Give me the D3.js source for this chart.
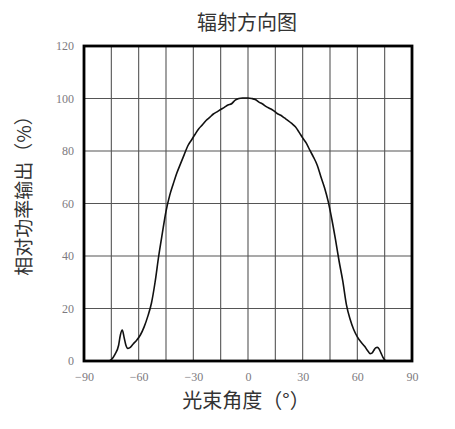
<!DOCTYPE html>
<html>
<head>
<meta charset="utf-8">
<script src="https://cdn.jsdelivr.net/npm/d3@7"></script>
<style>
html,body{margin:0;padding:0;background:#fff;}
svg{display:block;}
</style>
</head>
<body>
<script>
const title = "辐射方向图";
const xLabel = "光束角度（°）";
const yLabel = "相对功率输出（%）";
const xTicks = [-90, -60, -30, 0, 30, 60, 90];
const yTicks = [0, 20, 40, 60, 80, 100, 120];
const xGrid = d3.range(-90, 91, 15);
const angles = [-76, -75, -73, -71, -70, -69, -68, -67, -66, -65, -63, -61, -59, -57, -55, -53, -51, -49, -47, -45, -43, -41, -39, -37, -35, -33, -31, -29, -27, -25, -23, -21, -19, -17, -15, -13, -11, -9, -7, -5, -3, 0, 2, 4, 6, 8, 10, 12, 14, 16, 18, 20, 22, 24, 26, 28, 30, 32, 34, 36, 38, 40, 42, 44, 46, 48, 50, 52, 54, 56, 58, 60, 62, 64, 66, 67, 68, 69, 70, 71, 72, 73, 74, 75.5];
const power = [0, 0.5, 2.5, 6, 10, 11.8, 9, 6, 4.8, 5, 6.5, 8, 10, 13, 17, 22, 30, 40, 48.7, 57, 63, 67.5, 71.7, 75.2, 78.6, 82, 84.2, 86.4, 88.5, 90, 91.6, 92.8, 94.1, 94.9, 95.8, 96.6, 97.5, 98, 99.4, 100, 100.2, 100.2, 100, 99.6, 98.6, 97.9, 96.9, 96.2, 95.4, 94.3, 93.6, 92.6, 91.6, 90.5, 89.2, 87.2, 85, 83, 80.2, 77.6, 74.6, 70.2, 66, 60.8, 54, 46.3, 38, 30.5, 21.5, 16, 12, 9.2, 7.2, 5.6, 3.6, 2.8, 3, 4, 5, 5.2, 4.5, 3, 1.5, 0];

const W = 455, H = 429;
const m = {left: 84, right: W - 412, top: 46, bottom: H - 361};
const svg = d3.select("body").append("svg").attr("width", W).attr("height", H);

const x = d3.scaleLinear().domain([-90, 90]).range([m.left, W - m.right]);
const y = d3.scaleLinear().domain([0, 120]).range([H - m.bottom, m.top]);

// grid
svg.append("g").selectAll("line.v").data(xGrid.slice(1, -1)).join("line")
  .attr("x1", d => x(d)).attr("x2", d => x(d))
  .attr("y1", y(0)).attr("y2", y(120))
  .attr("stroke", "#555").attr("stroke-width", 1.1);
svg.append("g").selectAll("line.h").data(yTicks.slice(1, -1)).join("line")
  .attr("y1", d => y(d)).attr("y2", d => y(d))
  .attr("x1", x(-90)).attr("x2", x(90))
  .attr("stroke", "#555").attr("stroke-width", 1.1);

// curve
const pts = angles.map((a, i) => [a, power[i]]);
svg.append("path").datum(pts)
  .attr("fill", "none").attr("stroke", "#111").attr("stroke-width", 1.6)
  .attr("d", d3.line().x(d => x(d[0])).y(d => y(d[1])).curve(d3.curveMonotoneX));

// frame
svg.append("rect").attr("x", x(-90)).attr("y", y(120))
  .attr("width", x(90) - x(-90)).attr("height", y(0) - y(120))
  .attr("fill", "none").attr("stroke", "#000").attr("stroke-width", 2.8);

// axes labels via d3 axes
const xAxis = d3.axisBottom(x).tickValues(xTicks).tickSize(0).tickPadding(9)
  .tickFormat(d => d < 0 ? "\u2212" + Math.abs(d) : d);
const gx = svg.append("g").attr("transform", `translate(0,${y(0) + 2})`).call(xAxis);
gx.select(".domain").remove();
gx.selectAll("text").attr("font-family", "'Liberation Serif', serif").attr("font-size", 12).attr("fill", "#7d7a80");

const yAxis = d3.axisLeft(y).tickValues(yTicks).tickSize(0).tickPadding(10);
const gy = svg.append("g").attr("transform", `translate(${x(-90)},0)`).call(yAxis);
gy.select(".domain").remove();
gy.selectAll("text").attr("font-family", "'Liberation Serif', serif").attr("font-size", 12).attr("fill", "#7d7a80");

const cjk = "'Noto Sans CJK SC', 'Noto Sans', sans-serif";
svg.append("text").attr("x", 247).attr("y", 30).attr("text-anchor", "middle")
  .attr("font-family", cjk).attr("font-size", 20).attr("fill", "#333").text(title);
svg.append("text").attr("x", 246).attr("y", 408).attr("text-anchor", "middle")
  .attr("font-family", cjk).attr("font-size", 20).attr("fill", "#333").text(xLabel);
svg.append("text").attr("transform", "translate(31,191) rotate(-90)").attr("text-anchor", "middle")
  .attr("font-family", cjk).attr("font-size", 19).attr("fill", "#333").text(yLabel);
</script>
</body>
</html>
